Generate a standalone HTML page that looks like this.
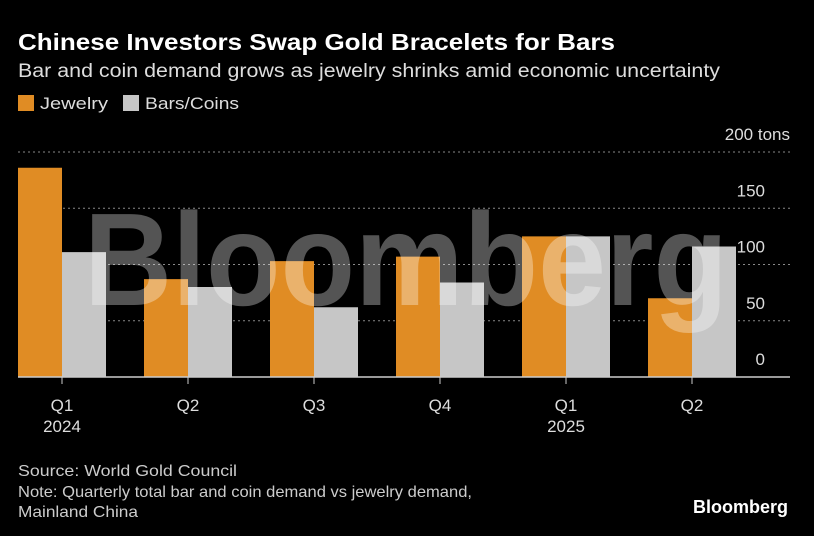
<!DOCTYPE html>
<html><head><meta charset="utf-8"><style>
body{margin:0;background:#000;width:814px;height:536px;overflow:hidden;font-family:"Liberation Sans",sans-serif;color:#fff}
</style></head><body>
<svg width="814" height="536" style="position:absolute;left:0;top:0">
<text x="18" y="50" font-size="23" font-weight="bold" fill="#fff" textLength="597" lengthAdjust="spacingAndGlyphs">Chinese Investors Swap Gold Bracelets for Bars</text>
<text x="18" y="77" font-size="19" fill="#ddd" textLength="702" lengthAdjust="spacingAndGlyphs">Bar and coin demand grows as jewelry shrinks amid economic uncertainty</text>
<rect x="18" y="95" width="16" height="16" fill="#e08c24"/>
<text x="40" y="109" font-size="17" fill="#ddd" textLength="68" lengthAdjust="spacingAndGlyphs">Jewelry</text>
<rect x="123" y="95" width="16" height="16" fill="#c6c6c6"/>
<text x="145" y="109" font-size="17" fill="#ddd" textLength="94" lengthAdjust="spacingAndGlyphs">Bars/Coins</text>
<g id="grid"></g>
<g id="bars"></g>
<text x="406" y="305" font-size="132" font-weight="bold" fill="#fff" fill-opacity="0.33" text-anchor="middle" textLength="644" lengthAdjust="spacingAndGlyphs">Bloomberg</text>
<line x1="18" y1="377" x2="790" y2="377" stroke="#ccc" stroke-width="1.5"/>
<g id="xl"></g>
<text x="18" y="476" font-size="16" fill="#ccc" textLength="219" lengthAdjust="spacingAndGlyphs">Source: World Gold Council</text>
<text x="18" y="497" font-size="16" fill="#ccc" textLength="454" lengthAdjust="spacingAndGlyphs">Note: Quarterly total bar and coin demand vs jewelry demand,</text>
<text x="18" y="517" font-size="16" fill="#ccc" textLength="120" lengthAdjust="spacingAndGlyphs">Mainland China</text>
<text x="788" y="513" font-size="18" font-weight="bold" fill="#fff" text-anchor="end">Bloomberg</text>
</svg>
<script>
const categories=["Q1","Q2","Q3","Q4","Q1","Q2"];
const years=["2024","","","","2025",""];
const jewelry=[186,87,103,107,125,70];
const barsCoins=[111,80,62,84,125,116];
const yTicks=[0,50,100,150,200];
const NS="http://www.w3.org/2000/svg";
const y=v=>377-v*1.125;
const gx=i=>18+i*126;
function mk(t,a,p){const e=document.createElementNS(NS,t);for(const k in a)e.setAttribute(k,a[k]);p.appendChild(e);return e;}
const grid=document.getElementById('grid'),bars=document.getElementById('bars'),xl=document.getElementById('xl');
yTicks.forEach(v=>{
 if(v>0){const l=mk('line',{x1:18,x2:790,y1:y(v),y2:y(v),stroke:'#888','stroke-dasharray':'2,3'},grid);
 
 }
 const t=mk('text',{x:v==200?790:765,y:y(v)-12,'font-size':17,fill:'#ddd','text-anchor':'end'},grid);
 t.textContent=v==200?'200 tons':String(v);
 
 
});
categories.forEach((c,i)=>{
 const a=mk('rect',{x:gx(i),y:y(jewelry[i]),width:44,height:jewelry[i]*1.125,fill:'#e08c24'},bars);
 
 
 const b=mk('rect',{x:gx(i)+44,y:y(barsCoins[i]),width:44,height:barsCoins[i]*1.125,fill:'#c6c6c6'},bars);
 
 
 const tk=mk('line',{x1:gx(i)+44,x2:gx(i)+44,y1:377,y2:384,stroke:'#ccc'},xl);
 
 
 const t=mk('text',{x:gx(i)+44,y:411,'font-size':17,fill:'#ddd','text-anchor':'middle'},xl);
 t.textContent=c;
 
 
 if(years[i]){const t2=mk('text',{x:gx(i)+44,y:432,'font-size':17,fill:'#ddd','text-anchor':'middle'},xl);
 t2.textContent=years[i];
 
 }
});
</script>
</body></html>
